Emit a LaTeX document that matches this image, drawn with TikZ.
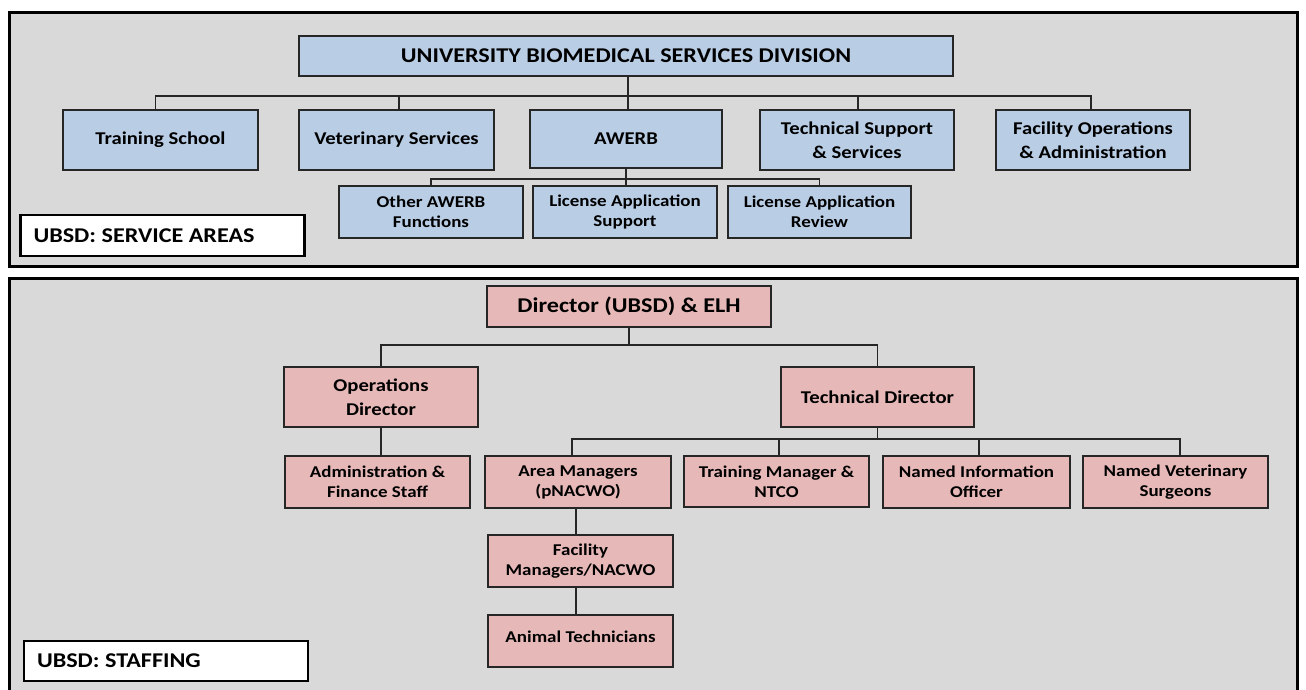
\documentclass[tikz,border=0pt]{standalone}
\usepackage{fontspec}
\setmainfont[FakeStretch=1.15]{Carlito}
\definecolor{blueF}{HTML}{B9CDE5}
\definecolor{pinkF}{HTML}{E6B9B8}
\definecolor{panelF}{HTML}{D9D9D9}
\definecolor{lineC}{HTML}{262626}
\frenchspacing
\newcommand{\tagtext}[1]{\makebox[258pt][l]{#1}}
\begin{document}
\begin{tikzpicture}[x=1pt,y=-1pt,
  box/.style={draw=lineC, line width=1.3pt, align=center, inner sep=0pt,
    font=\bfseries\fontsize{18}{23.5}\selectfont},
  bluebox/.style={box, fill=blueF},
  pinkbox/.style={box, fill=pinkF},
  small/.style={font=\bfseries\fontsize{16.5}{20}\selectfont},
  link/.style={draw=lineC, line width=1.3pt},
  panel/.style={draw=black, line width=3pt, fill=panelF},
  tag/.style={draw=black, line width=2.6pt, fill=white, inner xsep=13pt, inner ysep=0pt,
    minimum height=40pt,
    font=\bfseries\fontsize{21}{24}\selectfont}]
\useasboundingbox (0,0) rectangle (1306,689);
\fill[white] (0,0) rectangle (1306,689);
% panels
\draw[panel] (9,12) rectangle (1297,266);
\begin{scope}
\clip (0,0) rectangle (1306,689);
\draw[panel] (9,278) rectangle (1297,704);
\end{scope}

% ---------- top panel ----------
\node[bluebox, minimum width=654pt, minimum height=40pt, font=\bfseries\fontsize{21}{25}\selectfont] (ubsd) at (626,56) {UNIVERSITY BIOMEDICAL SERVICES DIVISION};
\node[bluebox, minimum width=195pt, minimum height=60pt] (train) at (160.5,140) {Training School};
\node[bluebox, minimum width=195pt, minimum height=60pt] (vet) at (396.5,140) {Veterinary Services};
\node[bluebox, minimum width=192pt, minimum height=58pt] (awerb) at (626,139) {AWERB};
\node[bluebox, minimum width=194pt, minimum height=60pt] (tech) at (857,140) {Technical Support\\\& Services};
\node[bluebox, minimum width=194pt, minimum height=60pt] (fac) at (1093,140) {Facility Operations\\\& Administration};
\node[bluebox, small, minimum width=184pt, minimum height=52pt] (other) at (431,212) {Other AWERB\\Functions};
\node[bluebox, small, minimum width=184pt, minimum height=52pt] (lsupp) at (625,212) {License Application\\Support};
\node[bluebox, small, minimum width=183pt, minimum height=52pt] (lrev) at (819.5,212) {License Application\\Review};
\node[tag, minimum height=41pt] (tag1) at (162.5,235.5) {\tagtext{UBSD: SERVICE AREAS}};

\coordinate (busA) at (0,96);
\coordinate (busB) at (0,179);
\draw[link] ([xshift=-5pt]train.north) -- ([xshift=-5pt]train.north |- busA) -- ([xshift=-2pt]fac.north |- busA) -- ([xshift=-2pt]fac.north);
\draw[link] ([xshift=2.5pt]vet.north) -- ([xshift=2.5pt]vet.north |- busA);
\draw[link] ([xshift=1pt]tech.north) -- ([xshift=1pt]tech.north |- busA);
\draw[link] ([xshift=2pt]ubsd.south) -- ([xshift=2pt]ubsd.south |- awerb.north);
\draw[link] (other.north) -- (other.north |- busB) -- (lrev.north |- busB) -- (lrev.north);
\draw[link] (awerb.south) -- (awerb.south |- lsupp.north);

% ---------- bottom panel ----------
\node[pinkbox, minimum width=284pt, minimum height=41pt, font=\bfseries\fontsize{21}{25}\selectfont] (dir) at (629,306.5) {Director (UBSD) \& ELH};
\node[pinkbox, minimum width=194pt, minimum height=60pt] (ops) at (381,397) {Operations\\Director};
\node[pinkbox, minimum width=193pt, minimum height=60pt] (tdir) at (877.5,397) {Technical Director};
\node[pinkbox, small, minimum width=185pt, minimum height=52pt] (admin) at (377.5,482) {Administration \&\\Finance Staff};
\node[pinkbox, small, minimum width=186pt, minimum height=52pt] (area) at (578,482) {Area Managers\\(pNACWO)};
\node[pinkbox, small, minimum width=185pt, minimum height=51pt] (trm) at (776.5,481.5) {Training Manager \&\\NTCO};
\node[pinkbox, small, minimum width=187pt, minimum height=52pt] (nio) at (976.5,482) {Named Information\\Officer};
\node[pinkbox, small, minimum width=185pt, minimum height=52pt] (nvs) at (1175.5,482) {Named Veterinary\\Surgeons};
\node[pinkbox, small, minimum width=185pt, minimum height=52pt] (facm) at (580.5,561) {Facility\\Managers/NACWO};
\node[pinkbox, small, minimum width=185pt, minimum height=52pt, text depth=8pt] (anim) at (580.5,641) {Animal Technicians};
\node[tag] (tag2) at (166,661) {\tagtext{UBSD: STAFFING}};

\coordinate (busC) at (0,345);
\coordinate (busD) at (0,439);
\draw[link] (dir.south) -- (dir.south |- busC);
\draw[link] (ops.north) -- (ops.north |- busC) -- (tdir.north |- busC) -- (tdir.north);
\draw[link] (ops.south) -- (ops.south |- admin.north);
\draw[link] (tdir.south) -- (tdir.south |- busD);
\draw[link] ([xshift=-6pt]area.north) -- ([xshift=-6pt]area.north |- busD) -- ([xshift=4.5pt]nvs.north |- busD) -- ([xshift=4.5pt]nvs.north);
\draw[link] ([xshift=2.5pt]trm.north) -- ([xshift=2.5pt]trm.north |- busD);
\draw[link] ([xshift=2.5pt]nio.north) -- ([xshift=2.5pt]nio.north |- busD);
\draw[link] ([xshift=-2pt]area.south) -- ([xshift=-2pt]area.south |- facm.north);
\draw[link] ([xshift=-4.5pt]facm.south) -- ([xshift=-4.5pt]facm.south |- anim.north);
\end{tikzpicture}
\end{document}
